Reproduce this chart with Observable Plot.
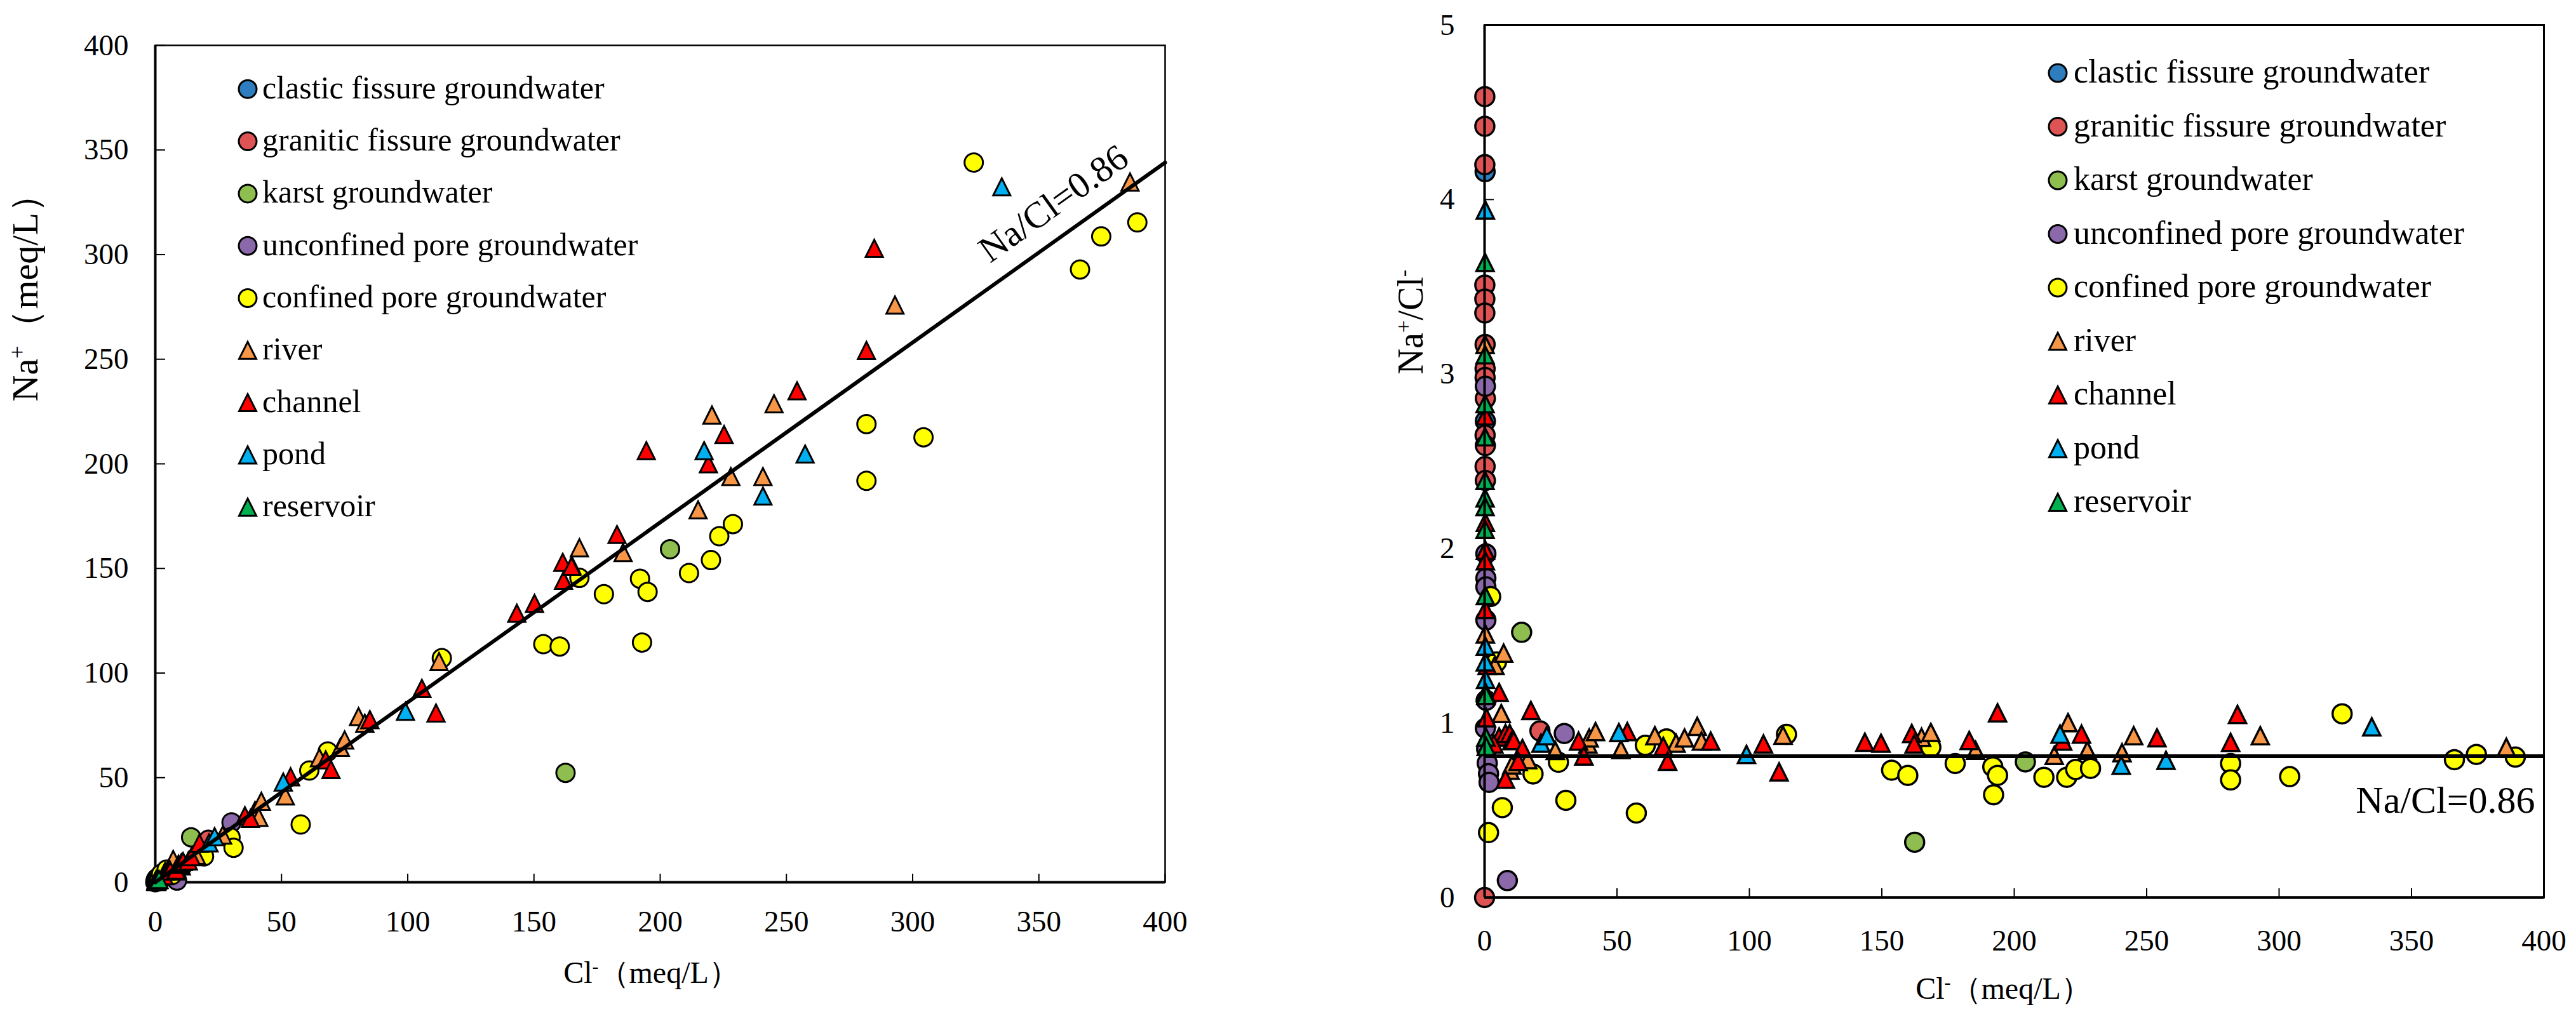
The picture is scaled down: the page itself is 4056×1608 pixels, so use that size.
<!DOCTYPE html>
<html>
<head>
<meta charset="utf-8">
<script src="https://cdn.jsdelivr.net/npm/d3@7"></script>
<script src="https://cdn.jsdelivr.net/npm/@observablehq/plot@0.6"></script>
<style>
html, body { margin: 0; padding: 0; background: #fff; }
#root { position: relative; width: 4056px; height: 1608px; overflow: hidden; background: #fff; }
.panel { position: absolute; top: 0; }
</style>
</head>
<body>
<div id="root">
  <div id="left" class="panel" style="left:0px"></div>
  <div id="right" class="panel" style="left:2040px"></div>
</div>
<script>
// ---------------- data ----------------
const groups = [
  "clastic fissure groundwater",
  "granitic fissure groundwater",
  "karst groundwater",
  "unconfined pore groundwater",
  "confined pore groundwater",
  "river",
  "channel",
  "pond",
  "reservoir"
];
const groupColors = ["#2E7EBF", "#DE5454", "#8DBE4F", "#8A68A9", "#FFFF00", "#F79646", "#FF0000", "#00B0F0", "#00B050"];
const groupShapes = ["circle", "circle", "circle", "circle", "circle", "triangle", "triangle", "triangle", "triangle"];

// Left panel: [Cl- (meq/L), Na+ (meq/L)]
const clasticLeft = [[0.3, 1.3], [0.5, 1.0]];
const graniticLeft = [[0, 0], [0.1, 0.3], [0.2, 0.9], [0.3, 1.2], [0.4, 1.5], [0.5, 1.3], [0.6, 1.8], [0.8, 2.1], [21, 20.3]];
const karstLeft = [[14.2, 21.5], [162.5, 52.3], [203.9, 159.2]];
const unconfinedLeft = [[0.5, 0.9], [1, 1.1], [1.5, 1.2], [2, 1.6], [3, 2.2], [8.6, 0.8], [30.2, 28.6]];
const confinedLeft = [[1.5, 0.6], [2.3, 4.0], [4.5, 6.1], [6.7, 3.5], [19.3, 12.4], [29.8, 21.5], [31, 16.5], [57.6, 27.6], [61, 53.4], [68.3, 62.5], [113.5, 107.1], [153.7, 113.8], [160.2, 112.7], [168, 145.5], [177.7, 137.7], [192, 145.1], [195, 138.8], [192.8, 114.6], [211.4, 147.8], [220.1, 154], [223.4, 165.4], [228.8, 171.2], [281.7, 219], [281.7, 191.9], [304.3, 212.7], [324.2, 344], [366.3, 292.9], [374.7, 308.7], [389, 315.4]];
const riverLeft = [[0.3, 0.8], [0.8, 1.6], [3.9, 5.2], [6.3, 6.6], [7.1, 10.9], [10.3, 7.8], [16.3, 12.9], [26.7, 22.5], [39.5, 34.3], [41, 31], [42, 38.7], [51.5, 41.3], [65, 59.5], [73.3, 64.5], [75, 68], [80.5, 79.2], [83, 76], [112.4, 105.5], [165, 151.5], [168, 159.9], [185.3, 157.6], [215, 178], [220.5, 223.3], [228, 193.9], [240.7, 193.9], [245.1, 228.7], [293, 275.9], [386.1, 334.7]];
const channelLeft = [[0.4, 1.0], [0.7, 0.8], [1, 1.3], [3.5, 3.1], [5.5, 6.5], [5.9, 5.4], [7.9, 5.4], [8.3, 5.8], [9.2, 8.6], [10.3, 9.3], [11, 9.9], [13.1, 10.2], [14.3, 12.2], [17.5, 18.7], [35.5, 31.8], [37.7, 30.5], [53.6, 50.4], [67.5, 58.5], [69.6, 53.9], [85, 77.7], [105.6, 92.7], [111.2, 80.9], [143.2, 128.6], [150.2, 133.3], [161.4, 152.9], [161.7, 144.3], [164.9, 151], [182.9, 166.2], [194.5, 206.3], [219.1, 200], [225.3, 214], [254.2, 234.9], [281.7, 254.2], [284.8, 303]];
const pondLeft = [[0.3, 1.2], [0.4, 0.5], [0.6, 0.8], [21.3, 18.8], [23.5, 21.8], [50.7, 47.9], [99.1, 81.7], [217.4, 206.3], [240.7, 184.6], [257.4, 204.7], [335.3, 332.4]];
const reservoirLeft = [[0.2, 0.4], [0.4, 0.9], [0.6, 0.4], [1, 1.2], [1.5, 1.3]];

// Right panel: [Cl- (meq/L), Na+/Cl-]
const clasticRight = [[0.2, 4.16], [0.3, 2.73]];
const graniticRight = [[0.1, 4.59], [0.1, 4.42], [0.1, 4.2], [0.1, 3.51], [0.1, 3.43], [0.1, 3.35], [0.2, 3.17], [0.2, 3.03], [0.2, 2.98], [0.3, 2.86], [0.2, 2.65], [0.3, 2.59], [0.2, 2.47], [0.3, 2.39], [20.9, 0.955], [0, 0]];
const karstRight = [[14, 1.52], [162.4, 0.317], [204.2, 0.777]];
const unconfinedRight = [[0.3, 2.93], [0.5, 1.97], [0.5, 1.83], [0.5, 1.78], [0.5, 1.59], [0.6, 1.13], [0.3, 0.97], [0.8, 0.85], [1, 0.77], [1.5, 0.71], [1.7, 0.66], [8.6, 0.097], [30.1, 0.94]];
const confinedRight = [[1.5, 0.372], [2.3, 1.725], [4.5, 1.35], [6.7, 0.515], [18.3, 0.708], [27.9, 0.775], [30.7, 0.557], [57.3, 0.484], [60.7, 0.872], [68.7, 0.909], [114, 0.935], [153.7, 0.73], [159.8, 0.70], [168.5, 0.861], [177.7, 0.768], [191.9, 0.749], [193.7, 0.70], [192.2, 0.589], [211.2, 0.689], [219.8, 0.689], [223.2, 0.734], [228.8, 0.74], [281.7, 0.768], [281.7, 0.674], [304, 0.693], [323.8, 1.053], [366.2, 0.79], [374.5, 0.82], [389.2, 0.805]];
const riverRight = [[0.2, 3.17], [0.3, 1.51], [3.9, 1.33], [7.2, 1.40], [6.3, 1.054], [9.6, 0.73], [10.3, 0.76], [16.3, 0.79], [26.7, 0.842], [39, 0.88], [39.5, 0.914], [41.9, 0.951], [51.5, 0.848], [64.3, 0.927], [72.3, 0.884], [75.5, 0.914], [80.3, 0.981], [81.9, 0.896], [112.7, 0.93], [165, 0.918], [168.5, 0.946], [185.4, 0.843], [215.1, 0.814], [220.3, 1.002], [227.6, 0.843], [240.7, 0.83], [245.1, 0.927], [292.9, 0.927], [385.8, 0.861]];
const channelRight = [[0.3, 2.76], [0.3, 2.15], [0.3, 1.99], [0.3, 1.93], [0.3, 1.65], [1, 1.33], [0.7, 1.03], [5.5, 1.175], [17.5, 1.072], [5.5, 0.92], [7.9, 0.94], [9.5, 0.94], [10.3, 0.90], [11, 0.9], [14.3, 0.854], [3.5, 0.88], [12.7, 0.78], [7.9, 0.678], [35.5, 0.896], [37.5, 0.811], [53.9, 0.951], [67.5, 0.866], [69.1, 0.781], [85.4, 0.896], [105.3, 0.88], [111.2, 0.72], [143.6, 0.89], [149.7, 0.884], [161.3, 0.94], [162.2, 0.88], [183, 0.90], [193.7, 1.058], [218.3, 0.896], [225.4, 0.936], [253.9, 0.915], [281.7, 0.889], [284.3, 1.049]];
const pondRight = [[0.3, 3.94], [0.3, 1.44], [0.3, 1.35], [0.4, 1.25], [21.3, 0.884], [23.5, 0.927], [50.7, 0.945], [98.9, 0.82], [217.3, 0.936], [240.4, 0.758], [257.3, 0.786], [335, 0.978]];
const reservoirRight = [[0.2, 3.64], [0.2, 3.11], [0.2, 2.83], [0.2, 2.64], [0.2, 2.39], [0.2, 2.29], [0.2, 2.24], [0.2, 2.11], [0.3, 1.73], [0.4, 1.175], [0.5, 1.158], [0.5, 0.92], [0.6, 0.865]];

// ticks and labels
const xTicks = [0, 50, 100, 150, 200, 250, 300, 350, 400];
const leftYTicks = [0, 50, 100, 150, 200, 250, 300, 350, 400];
const rightYTicks = [0, 1, 2, 3, 4, 5];
const xTitle = "Cl⁻（meq/L）";
const leftYTitle = "Na⁺（meq/L）";
const rightYTitle = "Na⁺/Cl⁻";
const ratioLabel = "Na/Cl=0.86";
const ratioSlope = 0.86;            // Na/Cl reference line on the left panel
const ratioLineCl = [0, 400];
const rightRatioLevel = 0.81;       // horizontal reference line as drawn on the right panel
const leftRatioLabelCl = 363;       // where the rotated label sits along the line

// ---------------- helpers ----------------
const FONT = "'Liberation Serif', 'Times New Roman', Times, serif";
const triangleSymbol = {
  draw(context, size) {
    const r = Math.sqrt(size / Math.PI);
    context.moveTo(0, -r);
    context.lineTo(r, r);
    context.lineTo(-r, r);
    context.closePath();
  }
};
function flatten(arrays) {
  return groups.flatMap((g, i) => arrays[i].map(([x, y]) => ({group: g, x, y, shape: groupShapes[i]})));
}
const leftData = flatten([clasticLeft, graniticLeft, karstLeft, unconfinedLeft, confinedLeft, riverLeft, channelLeft, pondLeft, reservoirLeft]);
const rightData = flatten([clasticRight, graniticRight, karstRight, unconfinedRight, confinedRight, riverRight, channelRight, pondRight, reservoirRight]);

function superscriptify(svg) {
  d3.select(svg).selectAll("text").each(function () {
    const t = this.textContent;
    if (!/[⁺⁻]/.test(t) || this.querySelector("tspan")) return;
    const el = d3.select(this);
    el.text(null);
    for (const part of t.split(/([⁺⁻])/)) {
      if (!part) continue;
      if (part === "⁺" || part === "⁻") {
        el.append("tspan").attr("baseline-shift", "super").attr("font-size", "0.62em").text(part === "⁺" ? "+" : "-");
      } else {
        el.append("tspan").text(part);
      }
    }
  });
}

function addLegend(svg, x0, y0, step, fontSize, rCircle, rTriangle, textGap) {
  const g = d3.select(svg).append("g").attr("class", "legend").attr("text-anchor", "start");
  groups.forEach((name, i) => {
    const cy = y0 + i * step;
    const isCircle = groupShapes[i] === "circle";
    const r = isCircle ? rCircle : rTriangle;
    g.append("path")
      .attr("transform", `translate(${x0},${cy})`)
      .attr("d", d3.symbol(isCircle ? d3.symbolCircle : triangleSymbol, Math.PI * r * r)())
      .attr("fill", groupColors[i])
      .attr("stroke", "#000")
      .attr("stroke-width", 3);
    g.append("text")
      .attr("x", x0 + textGap)
      .attr("y", cy + 0.29 * fontSize)
      .attr("text-anchor", "start")
      .attr("font-size", fontSize)
      .attr("font-family", FONT)
      .attr("fill", "#000")
      .text(name);
  });
}

// ---------------- left panel ----------------
{
  const W = 1990, H = 1608, mL = 244, mR = 156, mT = 71, mB = 219;
  const innerW = W - mL - mR, innerH = H - mT - mB;
  const lineData = ratioLineCl.map(x => ({x, y: ratioSlope * x}));
  const svg = Plot.plot({
    width: W, height: H,
    marginLeft: mL, marginRight: mR, marginTop: mT, marginBottom: mB,
    x: {domain: [0, 400]},
    y: {domain: [0, 400]},
    color: {domain: groups, range: groupColors},
    style: {fontFamily: FONT, fontSize: "47px", color: "#000", background: "transparent", overflow: "visible"},
    marks: [
      Plot.frame({stroke: "#000", strokeWidth: 2.5}),
      Plot.tickX(xTicks, {x: d => d, insetTop: innerH - 13, stroke: "#000", strokeWidth: 2}),
      Plot.tickY(leftYTicks, {y: d => d, insetRight: innerW - 16, stroke: "#000", strokeWidth: 2}),
      Plot.axisX({ticks: xTicks, tickSize: 0, tickPadding: 44, label: null, tickFormat: d => String(d)}),
      Plot.axisY({ticks: leftYTicks, tickSize: 0, tickPadding: 42, label: null, tickFormat: d => String(d)}),
      Plot.ruleX([0], {stroke: "#000", strokeWidth: 4}),
      Plot.ruleY([0], {stroke: "#000", strokeWidth: 4}),
      Plot.dot(leftData.filter(d => d.shape === "circle"), {x: "x", y: "y", fill: "group", stroke: "#000", strokeWidth: 3, r: 14.5, symbol: "circle"}),
      Plot.dot(leftData.filter(d => d.shape === "triangle"), {x: "x", y: "y", fill: "group", stroke: "#000", strokeWidth: 3, r: 13.5, symbol: triangleSymbol}),
      Plot.line(lineData, {x: "x", y: "y", stroke: "#000", strokeWidth: 6}),
      Plot.text([ratioLabel], {text: d => d, x: () => leftRatioLabelCl, y: () => ratioSlope * leftRatioLabelCl,
        rotate: -35.5, dx: -28.5, dy: -40, fontSize: 58, textAnchor: "middle", lineAnchor: "middle", fill: "#000"}),
      Plot.text([xTitle], {text: d => d, frameAnchor: "bottom", dx: -14, dy: 143, fontSize: 48, lineAnchor: "middle", fill: "#000"}),
      Plot.text([leftYTitle], {text: d => d, frameAnchor: "left", rotate: -90, dx: -204, dy: -98, fontSize: 58, lineAnchor: "middle", fill: "#000"})
    ]
  });
  superscriptify(svg);
  addLegend(svg, 390, 140.3, 82.3, 50, 14, 13.5, 23);
  document.getElementById("left").appendChild(svg);
}

// ---------------- right panel ----------------
{
  const W = 2016, H = 1608, mL = 297, mR = 51, mT = 39, mB = 195;
  const innerW = W - mL - mR, innerH = H - mT - mB;
  const svg = Plot.plot({
    width: W, height: H,
    marginLeft: mL, marginRight: mR, marginTop: mT, marginBottom: mB,
    x: {domain: [0, 400]},
    y: {domain: [0, 5]},
    color: {domain: groups, range: groupColors},
    style: {fontFamily: FONT, fontSize: "47px", color: "#000", background: "transparent", overflow: "visible"},
    marks: [
      Plot.frame({stroke: "#000", strokeWidth: 3}),
      Plot.tickX(xTicks, {x: d => d, insetTop: innerH - 14, stroke: "#000", strokeWidth: 2}),
      Plot.tickY(rightYTicks, {y: d => d, insetRight: innerW - 15, stroke: "#000", strokeWidth: 2}),
      Plot.axisX({ticks: xTicks, tickSize: 0, tickPadding: 50, label: null, tickFormat: d => String(d)}),
      Plot.axisY({ticks: rightYTicks, tickSize: 0, tickPadding: 47, label: null, tickFormat: d => String(d)}),
      Plot.dot(rightData.filter(d => d.shape === "circle"), {x: "x", y: "y", fill: "group", stroke: "#000", strokeWidth: 3.5, r: 15, symbol: "circle"}),
      Plot.dot(rightData.filter(d => d.shape === "triangle"), {x: "x", y: "y", fill: "group", stroke: "#000", strokeWidth: 3.5, r: 13.5, symbol: triangleSymbol}),
      Plot.ruleX([0], {stroke: "#000", strokeWidth: 4}),
      Plot.ruleY([0], {stroke: "#000", strokeWidth: 4.5}),
      Plot.ruleY([rightRatioLevel], {stroke: "#000", strokeWidth: 6}),
      Plot.text([ratioLabel], {text: d => d, frameAnchor: "right", y: () => rightRatioLevel, dx: -14, dy: 46, fontSize: 60, textAnchor: "end", lineAnchor: "top", fill: "#000"}),
      Plot.text([xTitle], {text: d => d, frameAnchor: "bottom", dx: -17, dy: 144, fontSize: 48, lineAnchor: "middle", fill: "#000"}),
      Plot.text([rightYTitle], {text: d => d, frameAnchor: "left", rotate: -90, dx: -115, dy: -137, fontSize: 56, lineAnchor: "middle", fill: "#000"})
    ]
  });
  superscriptify(svg);
  addLegend(svg, 1200, 115, 84.5, 52, 14, 13.5, 25);
  document.getElementById("right").appendChild(svg);
}
</script>
</body>
</html>
